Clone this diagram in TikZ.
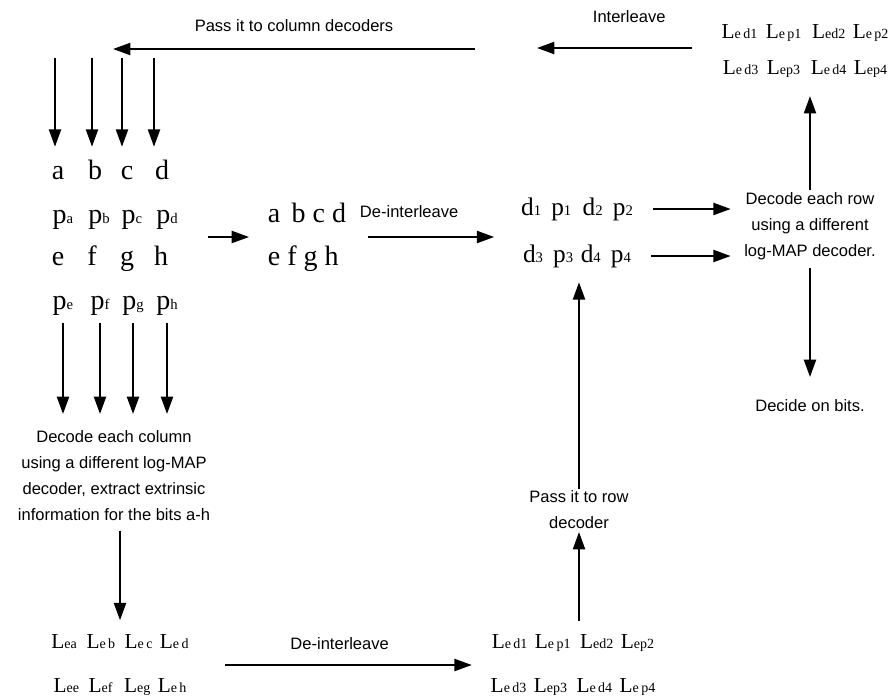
\documentclass[tikz,border=0pt]{standalone}
\usepackage{fontspec}
\setmainfont{Liberation Serif}
\newfontfamily\labfont{Liberation Sans}
\usetikzlibrary{arrows.meta}
\newcommand{\psub}[1]{{\fontsize{11}{11}\selectfont #1}}
\newcommand{\dsub}[1]{{\fontsize{11}{11}\selectfont #1}}
\newcommand{\lsub}[1]{{\fontsize{10.5}{10.5}\selectfont #1}}
\begin{document}
\begin{tikzpicture}
[x=0.75pt,y=-0.75pt,
  letterdecorate/.style={font=\fontsize{21}{21}\selectfont,inner sep=0pt,
    text height=14.5pt,text depth=4pt,anchor=base},
  blockdecorate/.style={font=\fontsize{21}{32}\selectfont,align=left,inner sep=0pt},
  drowdecorate/.style={font=\fontsize{19}{19}\selectfont,inner sep=0pt,
    text height=13pt,text depth=4pt},
  ldecorate/.style={font=\fontsize{16}{27.5}\selectfont,align=center,inner sep=0pt},
  labeldecorate/.style={font=\labfont\fontsize{12.4}{19.5}\selectfont,align=center,inner sep=0pt},
  arrowdecorate/.style={-{Triangle[length=13pt,width=9pt]},line width=1.6pt}]
\useasboundingbox (0,0) rectangle (892,697);
%% bits a-h and parities of the columns
\foreach \nodename/\txt/\x/\y in {
  a/a/58/179, b/b/95/179, c/c/127/179, d/d/162/179,
  pa/p\psub{a}/63/223, pb/p\psub{b}/99/223, pc/p\psub{c}/132/223, pd/p\psub{d}/167/223,
  e/e/58/265, f/f/92/265, g/g/127/265, h/h/161/265,
  pe/p\psub{e}/63/309, pf/p\psub{f}/100/309, pg/p\psub{g}/133/309, ph/p\psub{h}/167/309}
{
  \node (\nodename) at (\x,\y) [letterdecorate] {\txt};
}
\node (mid) at (307,237) [blockdecorate] {a\hspace{0.4em}b c d\\e f g h};
%% rows with their parities
\node (drowa) at (577,209) [drowdecorate]
  {d\dsub{1}\hspace{0.4em}p\dsub{1}\hspace{0.45em}d\dsub{2}\hspace{0.4em}p\dsub{2}};
\node (drowb) at (577,256) [drowdecorate]
  {d\dsub{3}\hspace{0.4em}p\dsub{3}\hspace{0.3em}d\dsub{4}\hspace{0.4em}p\dsub{4}};
%% extrinsic values
\node (ltr) at (805,51) [ldecorate]
  {L\lsub{e\,d1}\hspace{0.4em}L\lsub{e\,p1}\hspace{0.5em}L\lsub{ed2}\hspace{0.35em}L\lsub{e\,p2}\\
   L\lsub{e\,d3}\hspace{0.4em}L\lsub{ep3}\hspace{0.5em}L\lsub{e\,d4}\hspace{0.35em}L\lsub{ep4}};
\node (lbl) at (120,665) [ldecorate,font=\fontsize{16}{33}\selectfont]
  {L\lsub{ea}\hspace{0.45em}L\lsub{e\,b}\hspace{0.45em}L\lsub{e\,c}\hspace{0.35em}L\lsub{e\,d}\\
   L\lsub{ee}\hspace{0.45em}L\lsub{ef}\hspace{0.55em}L\lsub{eg}\hspace{0.35em}L\lsub{e\,h}};
\node (lbr) at (573,665) [ldecorate,font=\fontsize{16}{33}\selectfont]
  {L\lsub{e\,d1}\hspace{0.35em}L\lsub{e\,p1}\hspace{0.45em}L\lsub{ed2}\hspace{0.35em}L\lsub{ep2}\\
   L\lsub{e\,d3}\hspace{0.35em}L\lsub{ep3}\hspace{0.45em}L\lsub{e\,d4}\hspace{0.35em}L\lsub{e\,p4}};
%% texts
\node (decrow) at (810,226) [labeldecorate] {Decode each row\\using a different\\log-MAP decoder.};
\node (decide) at (810,406) [labeldecorate] {Decide on bits.};
\node (deccol) at (114,476) [labeldecorate]
  {Decode each column\\using a different log-MAP\\decoder, extract extrinsic\\information for the bits a-h};
\node (passrow) at (579,510) [labeldecorate] {Pass it to row\\decoder};
%% free ends
\coordinate (lr) at (208,237);
\coordinate (ilv) at (537,48);
\coordinate (pcs) at (475,49);
\coordinate (pce) at (113,49);
%% arrows into the columns
\foreach \nodename/\x in {a/55,b/92,c/122,d/154}
{
  \coordinate (top\nodename) at (\x,58);
  \draw[arrowdecorate,shorten >=9.5pt] (top\nodename) -- (top\nodename |- \nodename.north);
}
%% arrows out of the columns
\foreach \nodename in {pe,pf,pg,ph}
{
  \draw[arrowdecorate,shorten <=6.5pt,shorten >=12.5pt] (\nodename.south) -- (\nodename.south |- deccol.north);
}
\draw[arrowdecorate,shorten <=7pt,shorten >=10.5pt] (deccol.south -| lbl.north) -- (lbl.north);
\draw[arrowdecorate,shorten <=27pt,shorten >=14pt] (lbl.east) -- (lbr.west)
  node[labeldecorate,midway,above=11pt] {De-interleave};
\draw[arrowdecorate,shorten <=10pt,shorten >=2pt] (lbr.north -| passrow) -- (passrow.south);
\draw[arrowdecorate,shorten <=1pt,shorten >=11pt] (passrow.north) -- (passrow.north |- drowb.south);
\draw[arrowdecorate,shorten >=14pt] (lr) -- (lr -| mid.west);
\draw[arrowdecorate,shorten <=16.5pt,shorten >=20pt] (mid.east) -- (mid.east -| drowa.west)
  node[labeldecorate,pos=0.36,above=14pt] {De-interleave};
\draw[arrowdecorate,shorten <=15pt,shorten >=10pt] (drowa.east) -- (drowa.east -| decrow.west);
\draw[arrowdecorate,shorten <=15pt,shorten >=10pt] (drowb.east) -- (drowb.east -| decrow.west);
\draw[arrowdecorate,shorten <=6pt,shorten >=17pt] (decrow.south) -- (decide.north);
\draw[arrowdecorate,shorten <=1.5pt,shorten >=13.5pt] (decrow.north) -- (decrow.north |- ltr.south);
\draw[arrowdecorate,shorten <=22pt] (ltr.west |- ilv) -- (ilv)
  node[labeldecorate,midway,above=18pt] {Interleave};
\draw[arrowdecorate] (pcs) -- (pce)
  node[labeldecorate,midway,above=12pt] {Pass it to column decoders};
\end{tikzpicture}
\end{document}
